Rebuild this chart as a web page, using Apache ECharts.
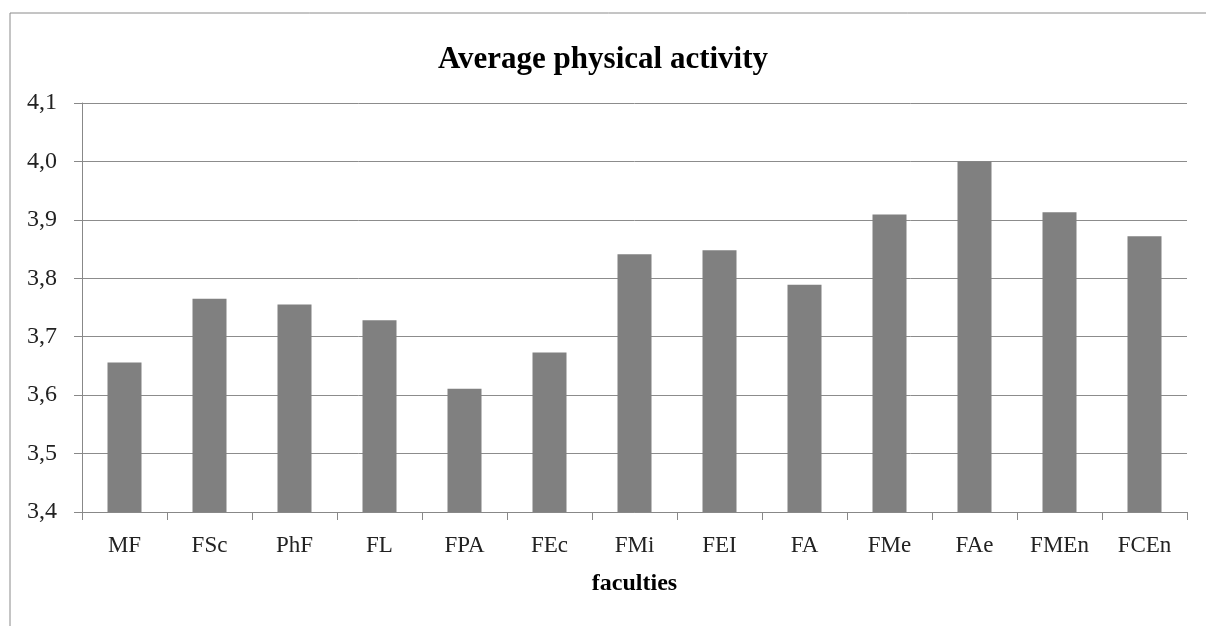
<!DOCTYPE html>
<html>
<head>
<meta charset="utf-8">
<script src="https://cdn.jsdelivr.net/npm/echarts@6/dist/echarts.min.js"></script>
<style>
html, body { margin: 0; padding: 0; background: #fff; }
#chart { width: 1206px; height: 626px; }
</style>
</head>
<body>
<div id="chart"></div>
<script>
var faculties = ['MF', 'FSc', 'PhF', 'FL', 'FPA', 'FEc', 'FMi', 'FEI', 'FA', 'FMe', 'FAe', 'FMEn', 'FCEn'];
var activity = [3.656, 3.765, 3.755, 3.728, 3.611, 3.673, 3.841, 3.848, 3.789, 3.909, 4.0, 3.913, 3.872];

var serif = '"Liberation Serif", "DejaVu Serif", serif';
var myChart = echarts.init(document.getElementById('chart'));

var option = {
    animation: false,
    backgroundColor: '#fff',
    graphic: [{
        type: 'rect',
        shape: { x: 10, y: 13, width: 1300, height: 700 },
        style: { fill: 'none', stroke: '#8a8a8a', lineWidth: 1 }
    }],
    title: {
        text: 'Average physical activity',
        left: 'center',
        top: 39,
        textStyle: { fontFamily: serif, fontSize: 31, fontWeight: 'bold', color: '#000' }
    },
    grid: { left: 82, right: 19, top: 103, bottom: 114 },
    xAxis: {
        type: 'category',
        data: faculties,
        name: 'faculties',
        nameLocation: 'middle',
        nameGap: 60,
        nameTextStyle: { fontFamily: serif, fontSize: 24, fontWeight: 'bold', color: '#000' },
        axisLine: { lineStyle: { color: '#888', width: 1 } },
        axisTick: { show: true, length: 8, lineStyle: { color: '#888' } },
        axisLabel: { fontFamily: serif, fontSize: 23, color: '#222', margin: 22 }
    },
    yAxis: {
        type: 'value',
        min: 3.4,
        max: 4.1,
        interval: 0.1,
        axisLine: { show: true, lineStyle: { color: '#888', width: 1 } },
        axisTick: { show: true, length: 8, lineStyle: { color: '#888' } },
        splitLine: { lineStyle: { color: '#8c8c8c', width: 1 } },
        axisLabel: {
            fontFamily: serif, fontSize: 24, color: '#222', margin: 25,
            formatter: function (v) { return v.toFixed(1).replace('.', ','); }
        }
    },
    series: [{
        type: 'bar',
        data: activity,
        barWidth: 34,
        itemStyle: { color: '#808080' }
    }]
};

myChart.setOption(option);
</script>
</body>
</html>
